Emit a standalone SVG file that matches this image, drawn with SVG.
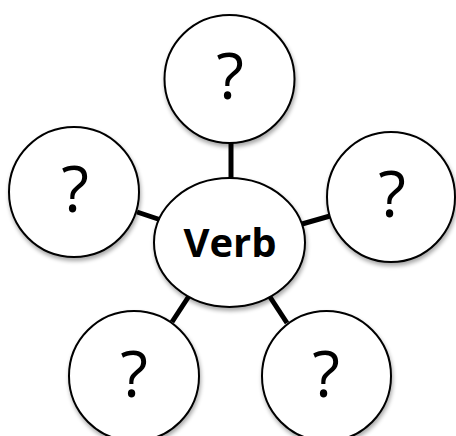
<svg xmlns="http://www.w3.org/2000/svg" width="456" height="436" viewBox="0 0 456 436">
<style>
.n{fill:#fff;stroke:#000;stroke-width:2;filter:url(#sh)}
.q{font-family:"Open Sans","Noto Sans",sans-serif;font-size:64px;text-anchor:middle;fill:#000}
.v{font-family:"Open Sans","Noto Sans",sans-serif;font-size:40px;font-weight:bold;text-anchor:middle;fill:#000}
.c{stroke:#000;stroke-width:5;fill:none}
</style>
<defs>
<filter id="sh" x="-20%" y="-20%" width="140%" height="140%">
<feGaussianBlur in="SourceAlpha" stdDeviation="2"/>
<feOffset dx="1" dy="3" result="b"/>
<feComponentTransfer><feFuncA type="linear" slope="0.35"/></feComponentTransfer>
<feMerge><feMergeNode/><feMergeNode in="SourceGraphic"/></feMerge>
</filter>
</defs>
<rect width="456" height="436" fill="#fff"/>
<g id="connectors">
<line class="c" x1="231" y1="143" x2="231" y2="179"/>
<line class="c" x1="137" y1="212" x2="161" y2="220"/>
<line class="c" x1="302" y1="224" x2="330" y2="216"/>
<line class="c" x1="189" y1="296" x2="172" y2="322"/>
<line class="c" x1="270" y1="297" x2="287" y2="323"/>
</g>
<g id="top"><ellipse class="n" cx="229.5" cy="79" rx="65" ry="64"/><text class="q" x="230" y="99">?</text></g>
<g id="left"><ellipse class="n" cx="74" cy="192" rx="65" ry="65"/><text class="q" x="75" y="212">?</text></g>
<g id="right"><ellipse class="n" cx="391" cy="197" rx="64" ry="65"/><text class="q" x="392" y="217">?</text></g>
<g id="bottom-left"><ellipse class="n" cx="134" cy="376" rx="65" ry="65"/><text class="q" x="134" y="397">?</text></g>
<g id="bottom-right"><ellipse class="n" cx="326.5" cy="376" rx="64.5" ry="65"/><text class="q" x="326" y="397">?</text></g>
<g id="center"><ellipse class="n" cx="229.5" cy="242.5" rx="75.5" ry="64.5"/><text class="v" x="230" y="257">Verb</text></g>
</svg>
